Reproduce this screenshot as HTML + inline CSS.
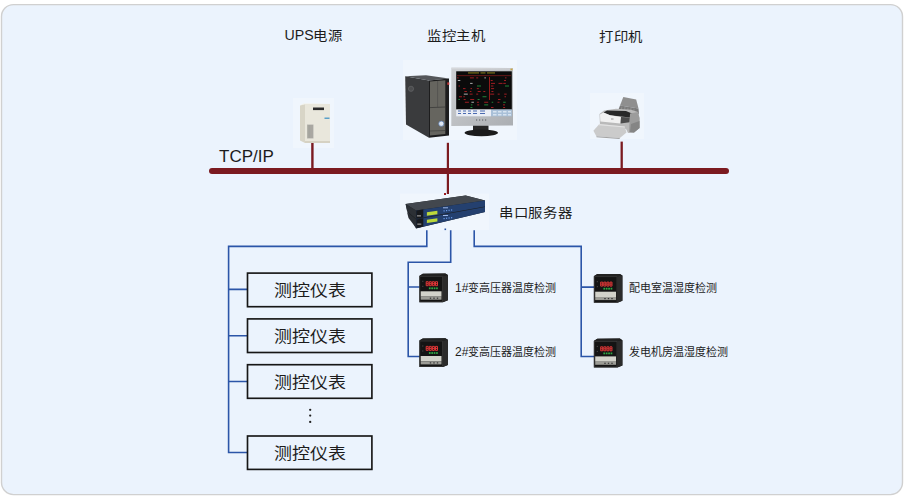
<!DOCTYPE html>
<html lang="zh-CN">
<head>
<meta charset="utf-8">
<style>
html,body{margin:0;padding:0;background:#fff;width:905px;height:498px;overflow:hidden;}
body{font-family:"Liberation Sans",sans-serif;}
svg{display:block;}
svg text{font-family:"Liberation Sans",sans-serif;fill:#1c1c1c;}
.m{font-weight:500;}
</style>
</head>
<body>
<svg width="905" height="498" viewBox="0 0 905 498">
  <!-- panel -->
  <rect x="1.5" y="4.6" width="901" height="490" rx="12" ry="12" fill="#ebf3fd" stroke="#d0d0d0" stroke-width="1.4"/>

  <!-- image backgrounds -->
  <rect x="293" y="98" width="41" height="50" fill="#f0f6fd"/>
  <rect x="403" y="60" width="114" height="80" fill="#f0f6fd"/>
  <rect x="590" y="93" width="54" height="46" fill="#f0f6fd"/>
  <rect x="400" y="193.5" width="89" height="36.5" fill="#f0f6fd"/>

  <!-- labels -->
  <text x="284.6" y="39.6" font-size="14.2">UPS</text>
  <text transform="translate(313.2 40.2) scale(1 0.9)" font-size="14.4" class="m">电源</text>
  <text transform="translate(426.8 40.4) scale(1 0.9)" font-size="14.4" class="m">监控主机</text>
  <text transform="translate(599 40.6) scale(1 0.9)" font-size="14.4" class="m">打印机</text>
  <text transform="translate(498.8 216.5) scale(1 0.9)" font-size="14.4" class="m">串口服务器</text>
  <text x="219" y="161.7" font-size="17">TCP/IP</text>

  <!-- red bus -->
  <g stroke="#7b1a20" fill="none">
    <line x1="212" y1="171" x2="726" y2="171" stroke-width="6" stroke-linecap="round"/>
    <line x1="312.4" y1="143" x2="312.4" y2="169" stroke-width="2.4"/>
    <line x1="447.9" y1="142.8" x2="447.9" y2="194" stroke-width="2.2"/>
    <line x1="621.7" y1="141.6" x2="621.7" y2="169" stroke-width="2.3"/>
  </g>
  <rect x="444" y="193" width="2" height="2" fill="#9a1a20"/>

  <!-- blue tree -->
  <g stroke="#2b55a8" stroke-width="1.6" fill="none">
    <path d="M426.8 230.2 V246.4 H228.6 V452.5 H247"/>
    <path d="M228.6 289.4 H247 M228.6 335.8 H247 M228.6 381.5 H247"/>
    <path d="M450.7 230.2 V262.2 H408.2 V356.5 H420 M408.2 287 H420"/>
    <path d="M474.2 230.2 V246.4 H581.2 V356.5 H594 M581.2 287.1 H594"/>
  </g>
  <rect x="444.5" y="228.5" width="1.6" height="1.6" fill="#2b57a8"/>

  <!-- boxes -->
  <g fill="none" stroke="#161616" stroke-width="1.65">
    <rect x="247.5" y="273.1" width="124.4" height="33.6"/>
    <rect x="247.5" y="318.9" width="124.4" height="33.6"/>
    <rect x="247.5" y="364.7" width="124.4" height="33.6"/>
    <rect x="247.5" y="436" width="124.4" height="33.4"/>
  </g>
  <g font-size="18" text-anchor="middle">
    <text transform="translate(310 296.1) scale(1 0.9)">测控仪表</text>
    <text transform="translate(310 342.1) scale(1 0.9)">测控仪表</text>
    <text transform="translate(310 388.1) scale(1 0.9)">测控仪表</text>
    <text transform="translate(310 459.4) scale(1 0.9)">测控仪表</text>
  </g>
  <g fill="#222">
    <circle cx="310.2" cy="409.8" r="1.15"/>
    <circle cx="310.2" cy="415.6" r="1.15"/>
    <circle cx="310.2" cy="421.9" r="1.15"/>
  </g>

  <!-- device labels -->
  <g font-size="11" class="m">
    <text x="455" y="291.8"><tspan font-size="12">1#</tspan>变高压器温度检测</text>
    <text x="455" y="356.4"><tspan font-size="12">2#</tspan>变高压器温度检测</text>
    <text x="628.7" y="291.8">配电室温湿度检测</text>
    <text x="628.7" y="356.4">发电机房温湿度检测</text>
  </g>

  <!-- controller devices -->
  <defs>
    <g id="ctl">
      <polygon points="0,2.6 3.5,0.4 26,0.2 28.6,1.8 28.6,27 23.6,29 0,29" fill="#141414"/>
      <polygon points="23.6,2.6 28.6,1.8 28.6,27 23.6,29" fill="#2b2b2b"/>
      <polygon points="3.5,0.4 26,0.2 28.6,1.8 23.6,2.6 0,2.6" fill="#222"/>
      <rect x="0.5" y="3" width="22.7" height="25.6" fill="none" stroke="#3e3e3e" stroke-width="0.7"/>
      <g fill="none" stroke="#f03a3a" stroke-width="0.9">
        <path d="M6.9 8.4h2v4h-2z M6.9 10.4h2"/><path d="M10 8.4h2v4h-2z M10 10.4h2"/>
        <path d="M13.1 8.4h2v4h-2z M13.1 10.4h2"/><path d="M16.2 8.4h2v4h-2z M16.2 10.4h2"/>
      </g>
      <g fill="#2fa844">
        <rect x="9.6" y="14.1" width="1.7" height="1.8"/><rect x="12" y="14.1" width="1.7" height="1.8"/>
        <rect x="14.4" y="14.1" width="1.7" height="1.8"/><rect x="16.8" y="14.1" width="1.7" height="1.8"/>
      </g>
      <rect x="3" y="7.5" width="1" height="1" fill="#555"/>
      <rect x="3" y="12.5" width="1" height="1" fill="#555"/>
      <rect x="1.4" y="18" width="20.8" height="5.3" fill="#d2d2ca"/>
      <rect x="1.4" y="23.3" width="20.8" height="3.1" fill="#9c9c96"/>
      <rect x="10.5" y="24.3" width="1.4" height="1.2" fill="#333"/>
      <rect x="14" y="24.3" width="1.4" height="1.2" fill="#333"/>
      <rect x="17.5" y="24.3" width="1.4" height="1.2" fill="#333"/>
    </g>
  </defs>
  <use href="#ctl" x="419.3" y="273.3"/>
  <use href="#ctl" x="419.3" y="338"/>
  <use href="#ctl" x="593.8" y="273.7"/>
  <use href="#ctl" x="593.8" y="338.4"/>

  <!-- UPS -->
  <polygon points="300,105.5 305,104 305,143 300,140.5" fill="#d8d5c7"/>
  <polygon points="300,105.5 303.5,103.6 330,103.6 305,104.2" fill="#f3f1e7"/>
  <rect x="305" y="104" width="25" height="39" fill="#e9e7dc"/>
  <rect x="313" y="107.5" width="11" height="2.6" fill="#2a2a2a"/>
  <rect x="307" y="124.5" width="6.5" height="14" fill="#b7b6af"/>
  <g stroke="#8e8d88" stroke-width="0.5">
    <line x1="308.3" y1="125" x2="308.3" y2="138"/><line x1="309.6" y1="125" x2="309.6" y2="138"/>
    <line x1="310.9" y1="125" x2="310.9" y2="138"/><line x1="312.2" y1="125" x2="312.2" y2="138"/>
  </g>
  <rect x="305" y="141" width="25" height="2" fill="#d6d2c3"/>
  <rect x="324.5" y="117.5" width="5" height="1.5" fill="#5aa0c8"/>

  <!-- computer tower -->
  <polygon points="405.2,76.2 429,80.6 429,137.8 406,124.5" fill="#3a3b3d"/>
  <polygon points="405.2,76.2 426,75.2 449,78.4 429,80.6" fill="#55575a"/>
  <polygon points="429,80.6 449,78.4 449,135.6 429,137.8" fill="#1d1d1e"/>
  <polygon points="430,81.6 445.3,80.2 445.3,134 430,135.6" fill="#66655f"/>
  <line x1="430" y1="107.6" x2="445.3" y2="107" stroke="#3a3a38" stroke-width="0.8"/>
  <line x1="437.6" y1="81" x2="437.6" y2="107.3" stroke="#4a4a47" stroke-width="0.6"/>
  <line x1="430" y1="131" x2="445.3" y2="130.5" stroke="#3a3a38" stroke-width="0.6"/>
  <circle cx="441.3" cy="123.7" r="2.6" fill="#dfe7f2" stroke="#5578b0" stroke-width="0.7"/>
  <circle cx="411" cy="88.8" r="2.6" fill="#4c4d4f" stroke="#6a6b6d" stroke-width="0.6"/>
  <rect x="447.3" y="82.4" width="2" height="2.4" fill="#c63a3a"/>

  <!-- monitor -->
  <defs><linearGradient id="bz" x1="0" y1="0" x2="1" y2="1"><stop offset="0" stop-color="#cfd1d4"/><stop offset="1" stop-color="#abaeb2"/></linearGradient></defs>
  <polygon points="451.3,67.4 513,68 513,125.5 451.3,126" fill="url(#bz)"/>
  <polygon points="451.8,67.9 512.5,68.5 512.5,69.5 451.8,69" fill="#d6d8db"/>
  <rect x="456.2" y="71.3" width="55.6" height="38.2" fill="#0b0b0b"/>
  <g>
    <rect x="468" y="72.6" width="11" height="0.7" fill="#c8b828"/><rect x="480.5" y="72.6" width="5" height="0.7" fill="#c8b828"/><rect x="487" y="72.6" width="8" height="0.7" fill="#c8b828"/>
    <rect x="457" y="75.4" width="54" height="0.7" fill="#8a1d1d"/>
    <rect x="489" y="77" width="0.8" height="23" fill="#b82020"/>
    <rect x="457.1" y="77.5" width="1.5" height="0.8" fill="#c42228"/>
    <rect x="469.9" y="77.5" width="4.0" height="0.8" fill="#c42228"/>
    <rect x="476.2" y="77.5" width="2.0" height="0.8" fill="#c42228"/>
    <rect x="484.4" y="77.5" width="1.5" height="0.8" fill="#d6d6d6"/>
    <rect x="505.0" y="77.5" width="1.5" height="0.8" fill="#c42228"/>
    <rect x="457.8" y="80.2" width="2.5" height="0.8" fill="#d6d6d6"/>
    <rect x="490.7" y="80.2" width="2.0" height="0.8" fill="#c42228"/>
    <rect x="504.0" y="80.2" width="2.0" height="0.8" fill="#c42228"/>
    <rect x="470.1" y="82.9" width="2.5" height="0.8" fill="#d6d6d6"/>
    <rect x="491.0" y="82.9" width="4.0" height="0.8" fill="#c42228"/>
    <rect x="498.5" y="82.9" width="4.0" height="0.8" fill="#c42228"/>
    <rect x="503.3" y="82.9" width="2.5" height="0.8" fill="#c42228"/>
    <rect x="458.5" y="85.6" width="1.5" height="0.8" fill="#c42228"/>
    <rect x="477.0" y="85.6" width="4.0" height="0.8" fill="#27a447"/>
    <rect x="490.9" y="85.6" width="2.5" height="0.8" fill="#c42228"/>
    <rect x="505.0" y="85.6" width="4.0" height="0.8" fill="#27a447"/>
    <rect x="463.0" y="88.3" width="2.5" height="0.8" fill="#c42228"/>
    <rect x="470.5" y="88.3" width="1.5" height="0.8" fill="#c42228"/>
    <rect x="476.8" y="88.3" width="2.0" height="0.8" fill="#c42228"/>
    <rect x="491.1" y="88.3" width="3.0" height="0.8" fill="#c42228"/>
    <rect x="464.4" y="91.0" width="2.5" height="0.8" fill="#c42228"/>
    <rect x="469.9" y="91.0" width="1.5" height="0.8" fill="#c42228"/>
    <rect x="477.7" y="91.0" width="3.0" height="0.8" fill="#c42228"/>
    <rect x="483.3" y="91.0" width="2.0" height="0.8" fill="#c42228"/>
    <rect x="491.4" y="91.0" width="2.0" height="0.8" fill="#c42228"/>
    <rect x="463.8" y="93.7" width="4.0" height="0.8" fill="#d6d6d6"/>
    <rect x="469.6" y="93.7" width="3.0" height="0.8" fill="#c42228"/>
    <rect x="476.2" y="93.7" width="2.0" height="0.8" fill="#c42228"/>
    <rect x="490.2" y="93.7" width="4.0" height="0.8" fill="#c42228"/>
    <rect x="497.7" y="93.7" width="2.0" height="0.8" fill="#c42228"/>
    <rect x="504.2" y="93.7" width="2.5" height="0.8" fill="#c42228"/>
    <rect x="459.0" y="96.4" width="3.0" height="0.8" fill="#c42228"/>
    <rect x="463.3" y="96.4" width="1.5" height="0.8" fill="#c42228"/>
    <rect x="482.5" y="96.4" width="4.0" height="0.8" fill="#27a447"/>
    <rect x="504.5" y="96.4" width="1.5" height="0.8" fill="#c42228"/>
    <rect x="458.4" y="99.1" width="1.5" height="0.8" fill="#27a447"/>
    <rect x="463.7" y="99.1" width="2.0" height="0.8" fill="#c42228"/>
    <rect x="470.2" y="99.1" width="4.0" height="0.8" fill="#c42228"/>
    <rect x="477.6" y="99.1" width="2.0" height="0.8" fill="#27a447"/>
    <rect x="498.0" y="99.1" width="2.5" height="0.8" fill="#c42228"/>
    <rect x="464.9" y="101.8" width="4.0" height="0.8" fill="#c42228"/>
    <rect x="471.4" y="101.8" width="2.5" height="0.8" fill="#d6d6d6"/>
    <rect x="476.9" y="101.8" width="2.0" height="0.8" fill="#c42228"/>
    <rect x="484.2" y="101.8" width="4.0" height="0.8" fill="#c42228"/>
    <rect x="491.7" y="101.8" width="1.5" height="0.8" fill="#27a447"/>
    <rect x="497.5" y="101.8" width="2.0" height="0.8" fill="#c42228"/>
    <rect x="503.2" y="101.8" width="2.5" height="0.8" fill="#27a447"/>
    <rect x="470.9" y="104.5" width="1.5" height="0.8" fill="#27a447"/>
    <rect x="477.2" y="104.5" width="2.0" height="0.8" fill="#c42228"/>
    <rect x="484.2" y="104.5" width="4.0" height="0.8" fill="#27a447"/>
    <rect x="503.0" y="104.5" width="2.0" height="0.8" fill="#c42228"/>
    <rect x="470.4" y="107.2" width="2.0" height="0.8" fill="#27a447"/>
    <rect x="491.0" y="107.2" width="2.5" height="0.8" fill="#c42228"/>
    <rect x="503.1" y="107.2" width="2.0" height="0.8" fill="#c42228"/>
  </g>
  <rect x="456.2" y="109.5" width="34.8" height="6.8" fill="#e9edf5"/>
  <rect x="491" y="109.5" width="20.8" height="6.8" fill="#a9c0d8"/>
  <g fill="#4a6ab0">
    <rect x="458" y="110.5" width="3" height="1"/><rect x="463" y="110.5" width="3" height="1"/><rect x="468" y="110.5" width="3" height="1"/><rect x="473" y="110.5" width="4" height="1"/><rect x="480" y="110.5" width="5" height="1"/>
    <rect x="458" y="113" width="3" height="1"/><rect x="463" y="113" width="3" height="1"/><rect x="468" y="113" width="3" height="1"/><rect x="473" y="113" width="4" height="1"/><rect x="480" y="113" width="5" height="1"/>
  </g>
  <g fill="#d8e4f0">
    <rect x="493" y="111" width="3.5" height="1.5"/><rect x="498" y="111" width="3.5" height="1.5"/><rect x="503" y="111" width="3.5" height="1.5"/><rect x="508" y="111" width="3" height="1.5"/>
    <rect x="493" y="114" width="3.5" height="1.5"/><rect x="498" y="114" width="3.5" height="1.5"/><rect x="503" y="114" width="3.5" height="1.5"/><rect x="508" y="114" width="3" height="1.5"/>
  </g>
  <rect x="510.5" y="68.6" width="2" height="1.6" fill="#c9a640"/>
  <g fill="#55585c"><rect x="476" y="119.5" width="1.2" height="1"/><rect x="479" y="119.5" width="1.2" height="1"/><rect x="482" y="119.5" width="1.2" height="1"/><rect x="485" y="119.5" width="1.2" height="1"/></g>
  <rect x="473" y="125.7" width="15.5" height="5.3" fill="#262626"/>
  <ellipse cx="481.3" cy="132.8" rx="16.7" ry="3.4" fill="#1b1b1b"/>

  <!-- printer -->
  <polygon points="623.3,97 636.2,99.4 638.5,108.5 620,105.5" fill="#8f8f8f"/>
  <polygon points="620,105.5 638.5,108.5 639,114 617.5,112" fill="#7a7a7a"/>
  <g stroke="#a6a6a6" stroke-width="0.5">
    <line x1="622" y1="106.5" x2="621" y2="111.5"/><line x1="625" y1="107" x2="624.3" y2="112"/><line x1="628" y1="107.5" x2="627.5" y2="112.5"/><line x1="631" y1="108" x2="630.7" y2="113"/><line x1="634" y1="108.5" x2="634" y2="113.5"/>
  </g>
  <polygon points="599.5,114 604,110.5 616,108.7 631,109.7 638,112 639.5,118 639.5,128 634,132.5 628,133 626,129 600,125.5" fill="#bababa"/>
  <polygon points="603.5,112.5 607,110.6 626,111 632,113.5 630,117.5 610,115.2" fill="#282828"/>
  <polygon points="600,114.6 603.5,112.5 610,115.2 621,117 620.5,123.6 600.4,121.6" fill="#f1f1f1"/>
  <polygon points="621,117 630,117.5 629.6,122.2 620.5,123.6" fill="#4c4c4c"/>
  <polygon points="630,113.5 638,112 639.5,118 639.5,128 634,132.5 629,132.2" fill="#9c9c9c"/>
  <polygon points="631,124 639.5,121 639.5,128 634,132.5 630,132" fill="#858585"/>
  <polygon points="593.4,130.7 599.4,124.1 624.7,126.5 626.5,132.5 619.9,138 596.4,136.2" fill="#cbcbcb"/>
  <polygon points="599.4,124.1 624.7,126.5 624.9,127.6 598.5,125.2" fill="#e2e2e2"/>
  <polygon points="596.4,136.2 619.9,138 619.5,139 596.5,137.3" fill="#a2a2a2"/>
  <rect x="611" y="118.5" width="2.5" height="1" fill="#999"/>

  <!-- serial server -->
  <polygon points="405.6,204 465.6,195.5 485,200.5 485,212 416,228.4 407.5,212" fill="#1e2125"/>
  <polygon points="405.6,204 465.6,195.5 485,200.5 416,210.5" fill="#42474e"/>
  <polygon points="405.6,204 416,210.5 416.3,219 407,211" fill="#2c3035"/>
  <polygon points="407,212 416.3,219.6 416.3,228.3 408.5,218" fill="#2a2e33"/>
  <polygon points="416.3,210.6 485,200.6 485,206.4 416.3,218.8" fill="#24406f"/>
  <polygon points="416.3,219.6 485,207 485,211.9 416.3,228.2" fill="#24406f"/>
  <polygon points="416.3,210.6 423.3,209.6 423.3,217.5 416.3,218.8" fill="#17191c"/>
  <polygon points="416.3,219.6 423.3,218.3 423.3,226.6 416.3,228.2" fill="#17191c"/>
  <polygon points="426.9,212.2 437.4,210.8 437.4,214.2 426.9,215.7" fill="#bcd83a"/>
  <polygon points="426.9,219.8 437.4,218.2 437.4,221.4 426.9,223" fill="#bcd83a"/>
  <g fill="#6a9ae8">
    <rect x="443.5" y="210.3" width="1.2" height="1.2"/><rect x="446" y="210" width="1.2" height="1.2"/><rect x="448.5" y="209.7" width="1.2" height="1.2"/><rect x="451" y="209.4" width="1.2" height="1.2"/>
    <rect x="443.5" y="218" width="1.2" height="1.2"/><rect x="446" y="217.7" width="1.2" height="1.2"/><rect x="448.5" y="217.4" width="1.2" height="1.2"/><rect x="451" y="217.1" width="1.2" height="1.2"/>
  </g>
  <rect x="443" y="207.3" width="5" height="1" fill="#9fb8e8"/>
  <rect x="443" y="215" width="5" height="1" fill="#9fb8e8"/>
  <rect x="417" y="215.2" width="4" height="1.3" fill="#8e8e8e"/>
  <rect x="417.3" y="223.5" width="4" height="1.3" fill="#8e8e8e"/>
</svg>
</body>
</html>
